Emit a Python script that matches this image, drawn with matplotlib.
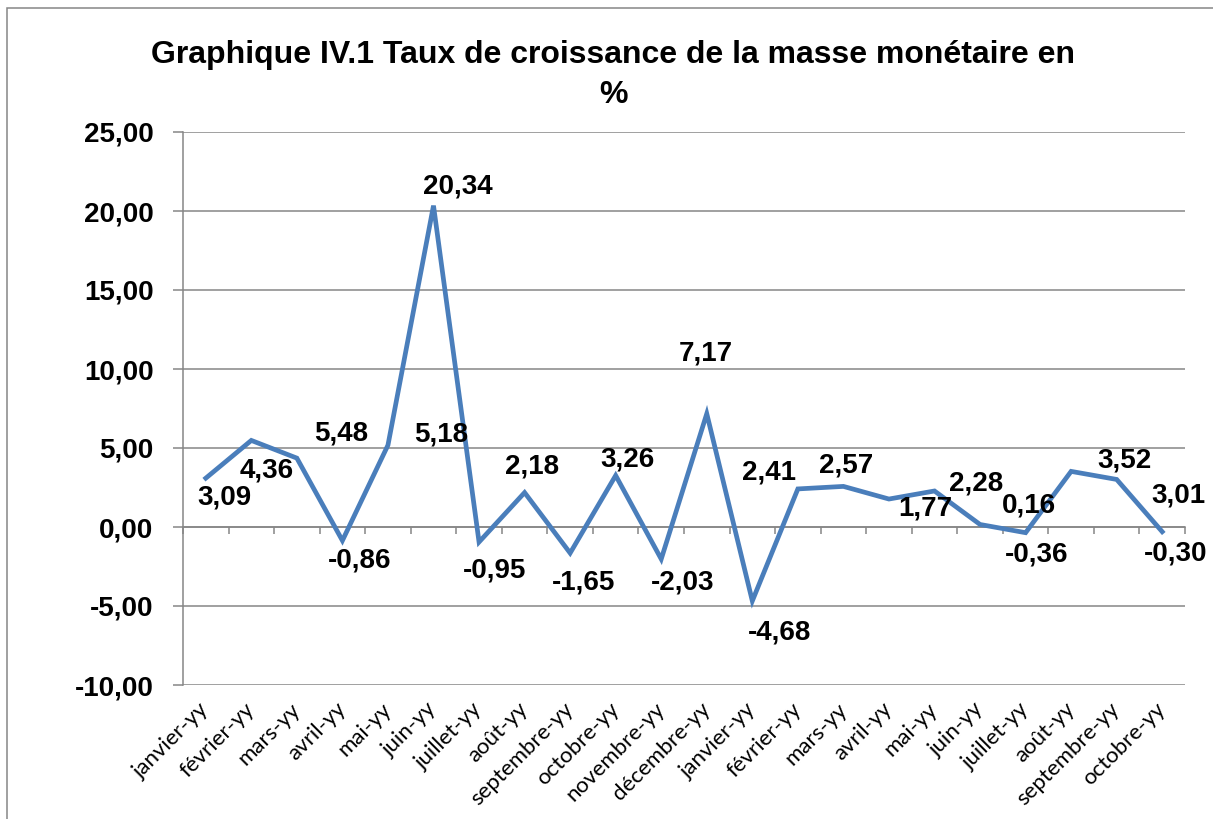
import numpy as np
import matplotlib
matplotlib.use("Agg")
import matplotlib.pyplot as plt
from matplotlib.patches import Rectangle

# ---- data ----
months = ["janvier-yy", "février-yy", "mars-yy", "avril-yy", "mai-yy", "juin-yy",
          "juillet-yy", "août-yy", "septembre-yy", "octobre-yy", "novembre-yy",
          "décembre-yy", "janvier-yy", "février-yy", "mars-yy", "avril-yy", "mai-yy",
          "juin-yy", "juillet-yy", "août-yy", "septembre-yy", "octobre-yy"]
growth = [3.09, 5.48, 4.36, -0.86, 5.18, 20.34, -0.95, 2.18, -1.65, 3.26, -2.03,
          7.17, -4.68, 2.41, 2.57, 1.77, 2.28, 0.16, -0.36, 3.52, 3.01, -0.30]
yticks = [-10, -5, 0, 5, 10, 15, 20, 25]
title = "Graphique IV.1 Taux de croissance de la masse monétaire en\n%"

# label placement offsets (pixels: right, down) mimicking the original layout
label_offsets = [(19, 19), (90, -7), (-30, 12), (17, 20), (53, -11), (24, -19),
                 (16, 28), (7, -26), (13, 29), (12, -16), (21, 23), (-1, -60),
                 (27, 32), (-29, -16), (3, -21), (36, 9), (42, -7), (49, -19),
                 (11, 22), (53, -11), (62, 16), (13, 22)]

GRAY = "#868686"
BLUE = "#4A7EBB"
BOLD = dict(family="Liberation Sans", weight="bold")

fig = plt.figure(figsize=(12.13, 8.19), dpi=100)
fig.patch.set_facecolor("white")

# outer chart border
fig.patches.append(Rectangle((7 / 1213, -0.1), 1.2, (819 - 8) / 819 + 0.1,
                             transform=fig.transFigure, fill=False,
                             edgecolor=GRAY, linewidth=1.1, clip_on=False))

ax = fig.add_axes([183 / 1213, 1 - 685 / 819, 1002 / 1213, 553 / 819])
x = np.arange(len(growth))
ax.plot(x, growth, color=BLUE, linewidth=3.4, solid_joinstyle="miter", zorder=3)

ax.set_xlim(-0.5, len(growth) - 0.5)
ax.set_ylim(min(yticks), max(yticks))
ax.set_yticks(yticks)
ax.set_yticklabels([f"{v:.2f}".replace(".", ",") for v in yticks],
                   fontsize=20, **BOLD)
ax.tick_params(axis="y", direction="out", length=7.2, width=1.1, color=GRAY, pad=14)

ax.yaxis.grid(True, color=GRAY, linewidth=1.1)
ax.set_axisbelow(True)

for s in ["top", "right"]:
    ax.spines[s].set_visible(False)
ax.spines["left"].set_color(GRAY)
ax.spines["left"].set_linewidth(1.1)
ax.spines["bottom"].set_position(("data", 0))
ax.spines["bottom"].set_color(GRAY)
ax.spines["bottom"].set_linewidth(1.1)

ax.set_xticks(x)
ax.set_xticklabels([])
ax.set_xticks(np.arange(-0.5, len(growth), 1), minor=True)
ax.tick_params(axis="x", which="major", length=0)
ax.tick_params(axis="x", which="minor", direction="out", length=5, width=1.1, color=GRAY)

sec = ax.secondary_xaxis("bottom")
sec.spines["bottom"].set_visible(False)
sec.set_xticks(x)
sec.set_xticklabels(months, fontsize=16, family="Lato")
sec.tick_params(axis="x", length=0, pad=15)
for lab in sec.get_xticklabels():
    lab.set_rotation(45)
    lab.set_ha("right")
    lab.set_va("center")
    lab.set_rotation_mode("anchor")

for xi, v, (dx, dy) in zip(x, growth, label_offsets):
    ax.annotate(f"{v:.2f}".replace(".", ","), (xi, v), xytext=(dx, -dy),
                textcoords="offset pixels", ha="center", va="center",
                fontsize=20, zorder=5, annotation_clip=False, **BOLD)

fig.text(613 / 1213, 1 - 75 / 819, title, ha="center", va="center",
         fontsize=23, linespacing=1.45, **BOLD)

fig.savefig("out.png", dpi=100, facecolor="white")
